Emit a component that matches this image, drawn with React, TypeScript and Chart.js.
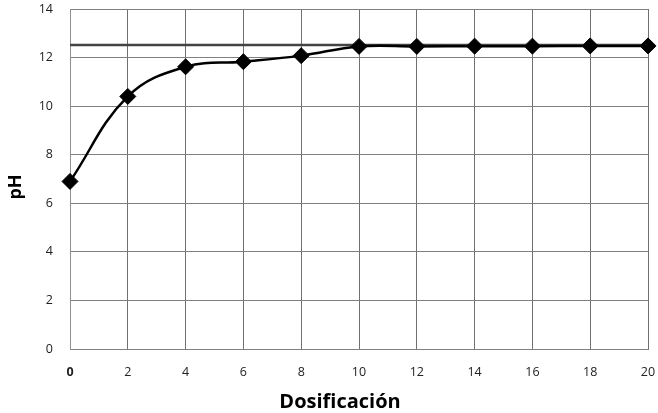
import React, { useEffect, useRef } from "react";
import { Chart, registerables } from "chart.js";

Chart.register(...registerables);

const dosis = [0, 2, 4, 6, 8, 10, 12, 14, 16, 18, 20];
const phValues = [6.9, 10.4, 11.62, 11.83, 12.08, 12.46, 12.46, 12.47, 12.47, 12.48, 12.48];
const refX = [0, 20];
const refPh = [12.52, 12.52];
const xTitle = "Dosificación";
const yTitle = "pH";

const FONT = "'Open Sans', 'DejaVu Sans', sans-serif";

const titlesPlugin = {
  id: "customTitles",
  afterDraw(chart: any) {
    const ctx = chart.ctx;
    const area = chart.chartArea;
    ctx.save();
    ctx.fillStyle = "#000";
    ctx.font = `bold 20px ${FONT}`;
    ctx.textAlign = "center";
    ctx.textBaseline = "middle";
    ctx.fillText(xTitle, (area.left + area.right) / 2 - 19, 402);
    ctx.translate(16, (area.top + area.bottom) / 2 + 8);
    ctx.rotate(-Math.PI / 2);
    ctx.font = `bold 18px ${FONT}`;
    ctx.fillText(yTitle, 0, 0);
    ctx.restore();
  },
};

const zeroPads = (s: any) => {
  s.paddingTop = 0;
  s.paddingBottom = 0;
  s.paddingLeft = 0;
  s.paddingRight = 0;
};

export default function App() {
  const ref = useRef<HTMLCanvasElement | null>(null);
  useEffect(() => {
    if (!ref.current) return;
    const chart = new Chart(ref.current, {
      type: "scatter",
      data: {
        datasets: [
          {
            label: "ref",
            data: refX.map((x, i) => ({ x, y: refPh[i] })),
            showLine: true,
            borderColor: "#444444",
            borderWidth: 2.5,
            pointRadius: 0,
            clip: false as any,
            order: 2,
          },
          {
            label: "pH",
            data: dosis.map((x, i) => ({ x, y: phValues[i] })),
            showLine: true,
            borderColor: "#000000",
            borderWidth: 2.5,
            tension: 0.4,
            pointStyle: "rectRot",
            pointRadius: 8,
            pointBackgroundColor: "#000000",
            pointBorderColor: "#000000",
            pointBorderWidth: 1,
            clip: false as any,
            order: 1,
          },
        ],
      },
      options: {
        responsive: false,
        animation: false,
        layout: { padding: { top: 8, right: 10, left: 0, bottom: 0 } },
        plugins: { legend: { display: false }, tooltip: { enabled: false } },
        scales: {
          x: {
            type: "linear",
            min: 0,
            max: 20,
            afterFit: (s: any) => {
              s.height = 64;
              zeroPads(s);
            },
            grid: { color: "#707070", lineWidth: 1, drawTicks: false },
            border: { color: "#808080", width: 1 },
            ticks: {
              stepSize: 2,
              padding: 16,
              color: "#222",
              font: (c: any) =>
                c.index === 0
                  ? { family: FONT, size: 12.5, weight: "bold" }
                  : { family: FONT, size: 12.5 },
            },
          },
          y: {
            min: 0,
            max: 14,
            afterFit: (s: any) => {
              s.width = 70;
              zeroPads(s);
            },
            grid: { color: "#808080", lineWidth: 1, drawTicks: false },
            border: { color: "#909090", width: 1 },
            ticks: {
              stepSize: 2,
              padding: 17,
              color: "#222",
              font: { family: FONT, size: 12.5 },
            },
          },
        },
      },
      plugins: [titlesPlugin],
    });
    return () => chart.destroy();
  }, []);
  return (
    <div style={{ position: "fixed", left: 0, top: 0, width: 658, height: 413, background: "#fff" }}>
      <canvas ref={ref} width={658} height={413} />
    </div>
  );
}
